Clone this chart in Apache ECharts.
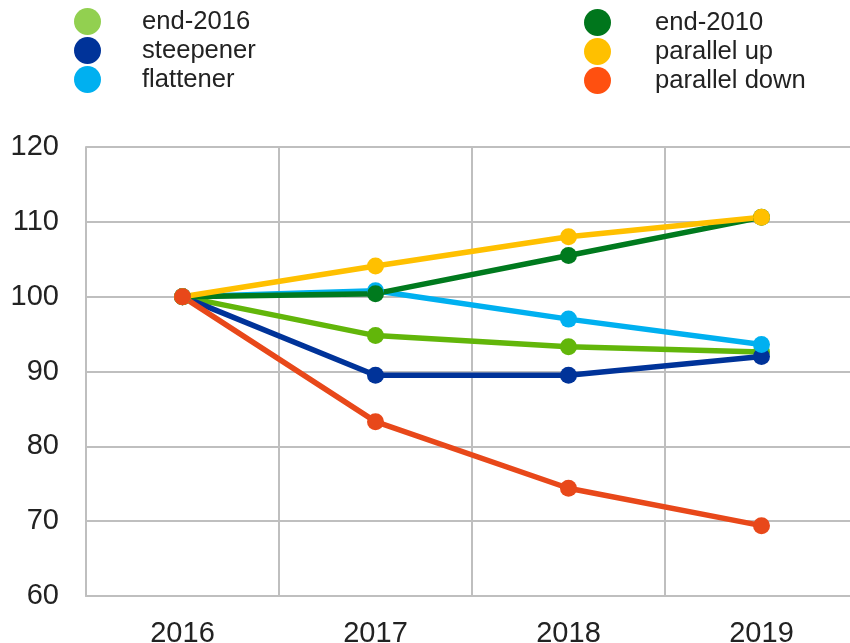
<!DOCTYPE html>
<html>
<head>
<meta charset="utf-8">
<script src="https://cdn.jsdelivr.net/npm/echarts@6/dist/echarts.min.js"></script>
<style>html,body{margin:0;padding:0;background:#fff;overflow:hidden}#c{width:850px;height:643px}</style>
</head>
<body>
<div id="c"></div>
<script>
var categories = ['2016', '2017', '2018', '2019'];
var yTicks = [60, 70, 80, 90, 100, 110, 120];
var end2016 = [100, 94.8, 93.3, 92.6];
var steepener = [100, 89.5, 89.5, 92.0];
var flattener = [100, 100.8, 97.0, 93.6];
var end2010 = [100, 100.4, 105.5, 110.6];
var parallelUp = [100, 104.1, 108.0, 110.6];
var parallelDown = [100, 83.3, 74.4, 69.4];

var seriesDefs = [
  {name: 'end-2016', data: end2016, color: '#62b60a', legendColor: '#92d050'},
  {name: 'steepener', data: steepener, color: '#003399', legendColor: '#003399'},
  {name: 'flattener', data: flattener, color: '#00b0f0', legendColor: '#00b0f0'},
  {name: 'end-2010', data: end2010, color: '#007a1e', legendColor: '#00761c'},
  {name: 'parallel up', data: parallelUp, color: '#ffc000', legendColor: '#ffc000'},
  {name: 'parallel down', data: parallelDown, color: '#e8481a', legendColor: '#ff5010'}
];

function legendData(names) {
  return names.map(function (n) {
    var d = seriesDefs.filter(function (s) { return s.name === n; })[0];
    return {name: n, itemStyle: {color: d.legendColor}};
  });
}

function legendBase(textPad) {
  return {
    orient: 'vertical',
    icon: 'circle',
    itemWidth: 27,
    itemHeight: 27,
    itemGap: 2,
    padding: 0,
    selectedMode: false,
    textStyle: {
      fontFamily: 'Liberation Sans, Arial, sans-serif',
      fontSize: 25.6,
      color: '#222',
      lineHeight: 27,
      padding: [0, 0, 0, textPad]
    }
  };
}

var chart = echarts.init(document.getElementById('c'), null, {renderer: 'canvas'});
chart.setOption({
  animation: false,
  backgroundColor: '#fff',
  legend: [
    Object.assign(legendBase(36), {left: 74, top: 8, data: legendData(['end-2016', 'steepener', 'flattener'])}),
    Object.assign(legendBase(39), {left: 584, top: 9, data: legendData(['end-2010', 'parallel up', 'parallel down'])})
  ],
  grid: {left: 86, top: 147, width: 772, height: 449, containLabel: false, outerBoundsMode: 'none'},
  xAxis: {
    type: 'category',
    data: categories,
    boundaryGap: true,
    axisLine: {show: true, lineStyle: {color: '#bfbfbf', width: 2}},
    axisTick: {show: false},
    splitLine: {show: true, lineStyle: {color: '#bfbfbf', width: 2}},
    axisLabel: {
      fontFamily: 'Liberation Sans, Arial, sans-serif',
      fontSize: 29,
      color: '#222',
      margin: 23
    }
  },
  yAxis: {
    type: 'value',
    min: yTicks[0],
    max: yTicks[yTicks.length - 1],
    interval: 10,
    axisLine: {show: true, lineStyle: {color: '#bfbfbf', width: 2}},
    axisTick: {show: false},
    splitLine: {show: true, lineStyle: {color: '#bfbfbf', width: 2}},
    axisLabel: {
      fontFamily: 'Liberation Sans, Arial, sans-serif',
      fontSize: 29,
      color: '#222',
      margin: 27
    }
  },
  series: seriesDefs.map(function (s) {
    return {
      name: s.name,
      type: 'line',
      data: s.data,
      symbol: 'circle',
      symbolSize: 17,
      lineStyle: {width: 5.5, color: s.color},
      itemStyle: {color: s.color},
      emphasis: {disabled: true}
    };
  })
});
</script>
</body>
</html>
